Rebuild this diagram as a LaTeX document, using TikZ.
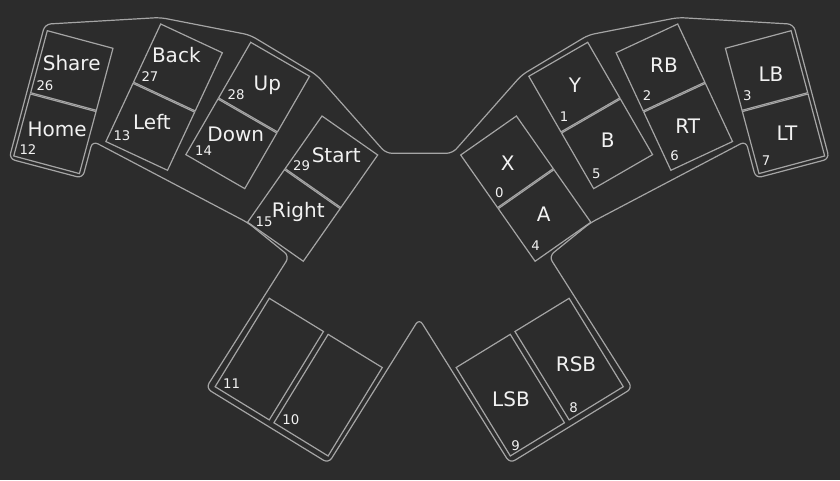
\documentclass[tikz,border=0pt]{standalone}
\usepackage{fontspec}
\setmainfont{DejaVu Sans}
\usepackage{tikz}
\definecolor{padbg}{RGB}{44,44,44}
\definecolor{padline}{RGB}{165,165,165}
\definecolor{padtext}{RGB}{242,242,242}

% key outlines of one half (left side, pixel units)
\newcommand{\halfkeys}{%
    % Share / Home
    \begin{scope}[shift={(47.3,30.7)}, rotate=-15]
        \draw[keyline] (0,0) rectangle (68,64.2);
        \draw[keyline] (0,65.5) rectangle (68,129.7);
    \end{scope}
    % Back / Left
    \begin{scope}[shift={(160.7,24)}, rotate=-25]
        \draw[keyline] (0,0) rectangle (68,64.2);
        \draw[keyline] (0,65.5) rectangle (68,129.7);
    \end{scope}
    % Up / Down
    \begin{scope}[shift={(250.7,42.3)}, rotate=-30]
        \draw[keyline] (0,0) rectangle (68,64.2);
        \draw[keyline] (0,65.5) rectangle (68,129.7);
    \end{scope}
    % Start / Right
    \begin{scope}[shift={(322,116)}, rotate=-35]
        \draw[keyline] (0,0) rectangle (68,64.2);
        \draw[keyline] (0,65.5) rectangle (68,129.7);
    \end{scope}
    % Thumb keys
    \begin{scope}[shift={(269.3,298.3)}, rotate=-31.5]
        \draw[keyline] (0,0) rectangle (63.5,103.7);
        \draw[keyline] (69,0) rectangle (132.5,103.7);
    \end{scope}
}

\begin{document}
\begin{tikzpicture}[x=1pt, y=-1pt,
    keyline/.style={draw=padline, line width=1.2pt},
    caseline/.style={draw=padline, line width=1.2pt, rounded corners=6pt},
    keylabel/.style={text=padtext, font=\fontsize{20}{24}\selectfont, anchor=base, inner sep=0pt},
    keynum/.style={text=padtext, font=\fontsize{13.3}{16}\selectfont, anchor=base, inner sep=0pt}]
    % Background
    \fill[padbg] (0,0) rectangle (840,480);

    % Case outline
    \draw[caseline] (419.2,153.3) -- (452.4,153.3) -- (521.7,75) -- (588.4,35)
        -- (678.1,17.5) -- (793.5,24.2) -- (829.3,158.8) -- (755.8,178.2)
        -- (745.9,141) -- (590.1,223) -- (549,256.3) -- (632.5,388.1)
        -- (509.9,463.3) -- (419.2,318.7) -- (328.5,463.3) -- (205.9,388.1)
        -- (289.4,256.3) -- (248.3,223) -- (92.5,141) -- (82.6,178.2)
        -- (9.1,158.8) -- (44.9,24.2) -- (160.3,17.5) -- (250,35)
        -- (316.7,75) -- (386,153.3) -- cycle;

    % Keys, left half and its mirror
    \halfkeys
    \begin{scope}[shift={(838.4,0)}, xscale=-1]
        \halfkeys
    \end{scope}

    % Labels - left half
    \node[keylabel] (share) at (71.7,70) {Share};
    \node[keylabel] (home) at (57.2,136.7) {Home};
    \node[keylabel] (back) at (176.3,62.7) {Back};
    \node[keylabel] (left) at (152,129.3) {Left};
    \node[keylabel] (up) at (267.3,90) {Up};
    \node[keylabel] (down) at (235.8,141.7) {Down};
    \node[keylabel] (start) at (336.2,162.3) {Start};
    \node[keylabel] (right) at (298.3,217.3) {Right};

    % Labels - right half
    \node[keylabel] (keyx) at (507.8,170.7) {X};
    \node[keylabel] (keya) at (543.7,221.7) {A};
    \node[keylabel] (keyy) at (575,92.3) {Y};
    \node[keylabel] (keyb) at (607.8,147.7) {B};
    \node[keylabel] (rb) at (664,72.7) {RB};
    \node[keylabel] (rt) at (687.7,133.3) {RT};
    \node[keylabel] (lb) at (771,81.7) {LB};
    \node[keylabel] (lt) at (787,140.7) {LT};

    % Labels - thumbs
    \node[keylabel] (lsb) at (511,406.7) {LSB};
    \node[keylabel] (rsb) at (576,371.7) {RSB};

    % Key numbers
    \node[keynum] (n26) at (45,90) {26};
    \node[keynum] (n12) at (28,154) {12};
    \node[keynum] (n27) at (150,81.7) {27};
    \node[keynum] (n13) at (122,140.7) {13};
    \node[keynum] (n28) at (236,99) {28};
    \node[keynum] (n14) at (203.7,155) {14};
    \node[keynum] (n29) at (301.7,170.7) {29};
    \node[keynum] (n15) at (264,226) {15};
    \node[keynum] (n0) at (499.3,197.7) {0};
    \node[keynum] (n4) at (535.5,250.7) {4};
    \node[keynum] (n1) at (564,121.7) {1};
    \node[keynum] (n5) at (596.3,178.3) {5};
    \node[keynum] (n2) at (647,100) {2};
    \node[keynum] (n6) at (674.5,160) {6};
    \node[keynum] (n3) at (747.3,100.7) {3};
    \node[keynum] (n7) at (766,165.7) {7};
    \node[keynum] (n11) at (231.7,388.3) {11};
    \node[keynum] (n10) at (290.8,424.3) {10};
    \node[keynum] (n9) at (515.5,450) {9};
    \node[keynum] (n8) at (573.7,412.3) {8};
\end{tikzpicture}
\end{document}
